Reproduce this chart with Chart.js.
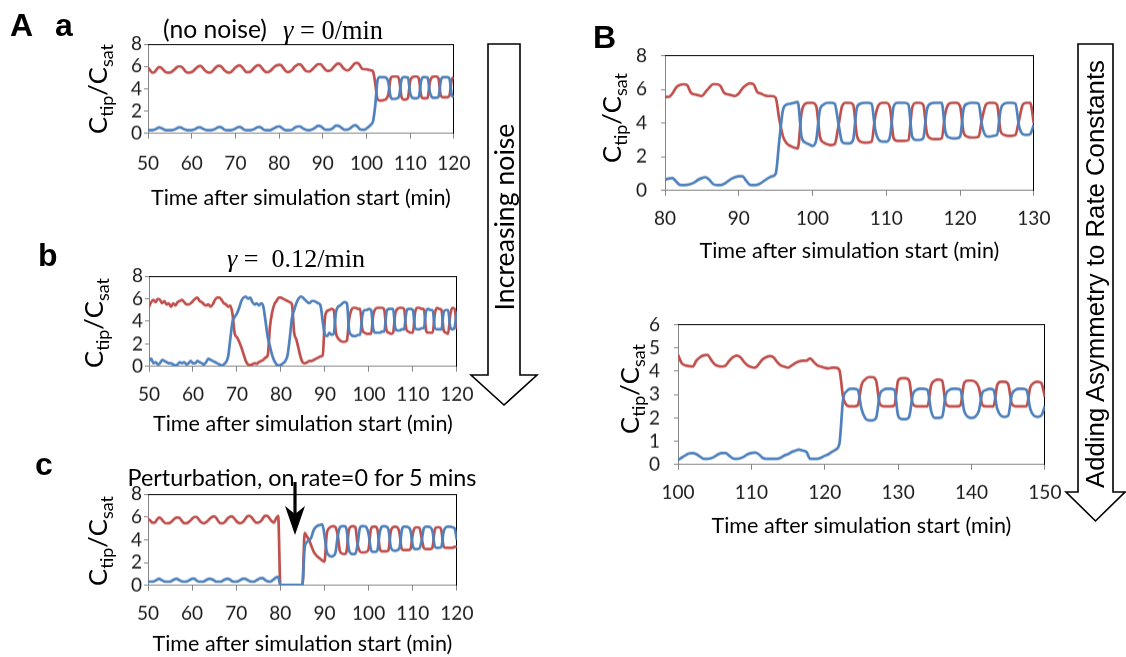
<!DOCTYPE html>
<html>
<head>
<meta charset="utf-8">
<script src="https://cdn.jsdelivr.net/npm/chart.js@4.4.1/dist/chart.umd.min.js"></script>
<style>
  html, body { margin: 0; padding: 0; background: #fff; }
  body { position: relative; width: 1126px; height: 657px; overflow: hidden; font-family: Lato, "Open Sans", sans-serif; color: #000; }
  .panel { position: absolute; }
  .lbl { position: absolute; white-space: nowrap; line-height: 1; }
  .letter { font-family: "Liberation Sans", Arial, sans-serif; font-weight: bold; font-size: 32px; }
  .ctr { transform: translate(-50%, -50%); }
  .rot { transform: translate(-50%, -50%) rotate(-90deg); }
  .rot sub { font-size: 0.7em; vertical-align: -0.3em; line-height: 0; }
  .math { font-family: "Liberation Serif", "Times New Roman", serif; }
  .arial { font-family: "Liberation Sans", Arial, sans-serif; }
  svg { position: absolute; left: 0; top: 0; }
</style>
</head>
<body>
<div class="panel" id="p-aa"><canvas></canvas></div>
<div class="panel" id="p-ab"><canvas></canvas></div>
<div class="panel" id="p-ac"><canvas></canvas></div>
<div class="panel" id="p-bt"><canvas></canvas></div>
<div class="panel" id="p-bb"><canvas></canvas></div>

<svg width="1126" height="657">
  <polygon points="488,44 520,44 520,375 537,375 504,405 471,375 488,375" fill="#fff" stroke="#000" stroke-width="1.6"/>
  <polygon points="1078,44 1113,44 1113,492 1125,492 1095.5,521 1066,492 1078,492" fill="#fff" stroke="#000" stroke-width="1.6"/>
  <line x1="295" y1="482" x2="295" y2="514" stroke="#000" stroke-width="3.2"/>
  <polygon points="285,506 295,514 305,506 295,535" fill="#000"/>
</svg>

<div class="lbl letter" style="left:10px;top:9px">A</div>
<div class="lbl letter" style="left:55px;top:9px">a</div>
<div class="lbl letter" style="left:38px;top:239px">b</div>
<div class="lbl letter" style="left:35px;top:448px">c</div>
<div class="lbl letter" style="left:593px;top:21px">B</div>

<div class="lbl ctr fit" data-w="104" style="left:215px;top:29px">(no noise)</div>
<div class="lbl ctr fit math" data-w="100" style="left:333px;top:30px"><i>γ</i> = 0/min</div>
<div class="lbl ctr fit math" data-w="138" style="left:296px;top:259px"><i>γ</i> =&nbsp; 0.12/min</div>
<div class="lbl ctr fit" data-w="349" style="left:302px;top:478px">Perturbation, on rate=0 for 5 mins</div>

<div class="lbl rot fit" data-w="90" style="left:98px;top:89px">C<sub>tip</sub>/C<sub>sat</sub></div>
<div class="lbl rot fit" data-w="90" style="left:94px;top:323px">C<sub>tip</sub>/C<sub>sat</sub></div>
<div class="lbl rot fit" data-w="90" style="left:98px;top:541px">C<sub>tip</sub>/C<sub>sat</sub></div>
<div class="lbl rot fit" data-w="90" style="left:612px;top:118px">C<sub>tip</sub>/C<sub>sat</sub></div>
<div class="lbl rot fit" data-w="90" style="left:630px;top:389px">C<sub>tip</sub>/C<sub>sat</sub></div>

<div class="lbl rot fit" data-w="187" style="left:504px;top:217px">Increasing noise</div>
<div class="lbl rot fit arial" data-w="428" style="left:1096px;top:274px">Adding Asymmetry to Rate Constants</div>

<script>
// sampled every 0.5 min; one row = 5 min
const aaRed = [
  5.9, 5.65, 5.45, 5.5, 5.75, 5.95, 5.9, 5.7, 5.5, 5.45,
  5.45, 5.55, 5.7, 5.9, 6.0, 6.0, 5.85, 5.6, 5.45, 5.45,
  5.5, 5.65, 5.85, 6.0, 6.05, 5.9, 5.65, 5.5, 5.45, 5.5,
  5.7, 5.9, 6.05, 6.05, 5.9, 5.65, 5.5, 5.45, 5.5, 5.7,
  5.9, 6.05, 6.1, 5.95, 5.7, 5.5, 5.5, 5.55, 5.75, 5.95,
  6.1, 6.1, 5.9, 5.65, 5.5, 5.5, 5.6, 5.8, 6.0, 6.1,
  6.15, 6.1, 5.85, 5.6, 5.5, 5.55, 5.7, 5.95, 6.1, 6.2,
  6.15, 5.9, 5.65, 5.55, 5.55, 5.7, 5.9, 6.1, 6.2, 6.2,
  6.0, 5.75, 5.6, 5.6, 5.7, 5.95, 6.15, 6.25, 6.2, 5.95,
  5.75, 5.65, 5.7, 5.9, 6.15, 6.3, 6.3, 6.1, 5.8, 5.75,
  5.75, 5.7, 5.65, 5.55, 4.5, 3.1, 2.95, 2.95, 3.0, 3.1,
  3.5, 4.9, 5.1, 5.1, 5.1, 4.8, 3.3, 3.05, 3.05, 3.2,
  4.7, 5.05, 5.1, 5.1, 4.9, 3.4, 3.15, 3.15, 3.2, 4.6,
  5.05, 5.1, 5.1, 4.9, 3.4, 3.25, 3.25, 3.25, 3.4, 4.8,
  5.05
];
const aaBlue = [
  0.3, 0.3, 0.3, 0.35, 0.45, 0.55, 0.5, 0.4, 0.3, 0.3,
  0.3, 0.3, 0.35, 0.45, 0.55, 0.55, 0.45, 0.35, 0.3, 0.3,
  0.3, 0.35, 0.45, 0.55, 0.55, 0.45, 0.35, 0.3, 0.3, 0.3,
  0.35, 0.45, 0.55, 0.6, 0.5, 0.35, 0.3, 0.3, 0.3, 0.35,
  0.45, 0.55, 0.6, 0.5, 0.35, 0.3, 0.3, 0.3, 0.35, 0.45,
  0.55, 0.6, 0.5, 0.35, 0.3, 0.3, 0.3, 0.4, 0.5, 0.6,
  0.65, 0.55, 0.4, 0.3, 0.3, 0.3, 0.35, 0.5, 0.6, 0.65,
  0.6, 0.45, 0.35, 0.3, 0.3, 0.35, 0.45, 0.6, 0.7, 0.65,
  0.5, 0.35, 0.35, 0.35, 0.4, 0.55, 0.7, 0.7, 0.6, 0.45,
  0.35, 0.35, 0.4, 0.55, 0.7, 0.75, 0.6, 0.4, 0.35, 0.35,
  0.45, 0.6, 0.8, 1.1, 2.5, 4.7, 5.05, 5.05, 5.05, 5.0,
  4.6, 3.3, 3.1, 3.1, 3.15, 3.4, 4.8, 5.05, 5.05, 5.0,
  3.6, 3.2, 3.15, 3.15, 3.3, 4.7, 5.05, 5.05, 5.0, 3.7,
  3.25, 3.2, 3.2, 3.3, 4.7, 5.05, 5.05, 5.05, 4.9, 3.5,
  3.25
];

const abRed = [
  5.3, 5.7, 5.9, 5.7, 6.0, 5.9, 5.6, 5.8, 5.5, 5.6,
  5.3, 5.6, 5.4, 5.7, 5.8, 5.9, 5.7, 5.5, 5.5, 5.6,
  5.8, 6.0, 6.1, 5.8, 5.7, 5.5, 5.4, 5.5, 5.3, 5.5,
  5.9, 6.1, 6.1, 5.9, 5.6, 5.5, 5.3, 5.4, 4.6, 2.9,
  2.6, 2.2, 1.7, 1.1, 0.5, 0.2, 0.15, 0.2, 0.3, 0.25,
  0.4, 0.5, 0.6, 0.8, 1.0, 3.5, 4.8, 5.5, 5.8, 6.1,
  6.1, 6.0, 5.9, 5.8, 5.7, 5.5, 3.0, 2.4, 1.6, 0.8,
  0.35, 0.3, 0.4, 0.5, 0.5, 0.6, 0.7, 0.8, 0.9, 1.0,
  4.3, 4.9, 5.0, 5.1, 5.0, 3.0, 2.5, 2.3, 2.2, 2.2,
  2.3, 4.2, 5.0, 5.2, 5.2, 5.1, 5.1, 3.3, 3.0, 2.9,
  2.9, 2.9, 4.6, 5.1, 5.2, 5.2, 5.2, 5.0, 3.2, 3.0,
  2.9, 3.0, 4.7, 5.1, 5.2, 5.2, 5.1, 3.3, 3.1, 3.0,
  3.0, 4.8, 5.2, 5.2, 5.1, 5.1, 3.2, 3.0, 3.0, 3.0,
  4.7, 5.2, 5.1, 5.0, 3.2, 3.0, 2.9, 4.6, 5.2, 5.1,
  3.3
];
const abBlue = [
  0.5, 0.7, 0.3, 0.4, 0.2, 0.3, 0.6, 0.5, 0.4, 0.3,
  0.3, 0.2, 0.1, 0.2, 0.4, 0.3, 0.4, 0.2, 0.3, 0.5,
  0.3, 0.3, 0.5, 0.4, 0.3, 0.2, 0.4, 0.7, 0.6, 0.5,
  0.4, 0.3, 0.2, 0.1, 0.2, 0.4, 0.9, 2.5, 4.0, 4.4,
  4.7, 5.2, 5.8, 6.1, 6.2, 6.0, 6.1, 5.7, 5.5, 5.6,
  5.4, 5.6, 5.3, 4.0, 2.6, 1.8, 1.0, 0.5, 0.2, 0.1,
  0.15, 0.3, 0.5, 1.0, 2.5, 4.3, 5.0, 5.6, 6.0, 6.2,
  6.1, 5.9, 5.7, 5.6, 5.8, 5.8, 5.7, 5.6, 5.4, 4.0,
  2.8, 2.7, 3.0, 2.8, 2.9, 4.8, 5.3, 5.4, 5.6, 5.7,
  5.6, 3.2, 2.8, 2.7, 2.7, 2.8, 2.8, 4.5, 5.0, 5.0,
  5.1, 5.0, 3.3, 3.0, 3.0, 3.0, 3.1, 3.1, 4.8, 5.1,
  5.1, 5.1, 3.4, 3.2, 3.2, 3.3, 3.3, 4.8, 5.1, 5.1,
  5.0, 3.4, 3.3, 3.3, 3.4, 3.4, 4.9, 5.1, 5.0, 5.0,
  3.4, 3.3, 3.3, 3.3, 4.8, 5.0, 5.0, 3.5, 3.3, 3.5,
  4.9
];

const acRed = [
  5.85, 5.7, 5.5, 5.5, 5.75, 5.95, 5.85, 5.6, 5.45, 5.45,
  5.5, 5.65, 5.85, 5.95, 5.95, 5.75, 5.5, 5.45, 5.5, 5.65,
  5.85, 6.0, 6.0, 5.8, 5.55, 5.45, 5.5, 5.65, 5.85, 6.0,
  6.05, 5.9, 5.6, 5.45, 5.45, 5.6, 5.85, 6.0, 6.05, 5.9,
  5.65, 5.5, 5.45, 5.55, 5.8, 6.05, 6.1, 5.95, 5.7, 5.5,
  5.5, 5.6, 5.85, 6.1, 6.1, 5.9, 5.65, 5.5, 5.85, 6.1,
  0.05, 0.05, 0.05, 0.05, 0.05, 0.05, 0.05, 0.05, 0.05, 0.05,
  0.05, 4.6, 4.3, 4.0, 3.5, 3.0, 2.7, 2.5, 2.35, 2.2,
  2.1, 4.5, 5.0, 5.15, 5.2, 5.1, 4.4, 3.0, 2.8, 2.75,
  3.0, 4.8, 5.15, 5.2, 5.1, 3.6, 3.0, 2.9, 2.9, 2.95,
  3.2, 4.9, 5.15, 5.15, 4.9, 3.3, 3.0, 3.0, 3.0, 3.1,
  4.7, 5.1, 5.15, 5.1, 4.6, 3.2, 3.1, 3.1, 3.1, 3.2,
  4.5, 5.05, 5.1, 5.05, 4.2, 3.3, 3.2, 3.2, 3.2, 3.4,
  4.9, 5.1, 5.1, 4.8, 3.4, 3.3, 3.3, 3.3, 3.3, 3.4,
  3.4
];
const acBlue = [
  0.35, 0.35, 0.35, 0.4, 0.5, 0.6, 0.5, 0.4, 0.35, 0.35,
  0.35, 0.45, 0.55, 0.6, 0.5, 0.4, 0.35, 0.35, 0.4, 0.5,
  0.6, 0.6, 0.45, 0.35, 0.35, 0.35, 0.45, 0.55, 0.6, 0.55,
  0.45, 0.35, 0.35, 0.35, 0.45, 0.55, 0.6, 0.55, 0.4, 0.35,
  0.35, 0.4, 0.5, 0.6, 0.6, 0.5, 0.4, 0.35, 0.35, 0.45,
  0.55, 0.65, 0.65, 0.5, 0.4, 0.35, 0.4, 0.55, 0.7, 0.75,
  0.05, 0.05, 0.05, 0.05, 0.05, 0.05, 0.05, 0.05, 0.05, 0.05,
  0.05, 3.3, 3.8, 3.95, 4.2, 4.8, 5.1, 5.25, 5.3, 5.35,
  4.4, 3.0, 2.65, 2.55, 2.6, 2.9, 4.3, 5.1, 5.2, 5.2,
  4.9, 3.2, 2.8, 2.75, 2.8, 3.6, 5.0, 5.2, 5.2, 5.1,
  4.5, 3.2, 2.95, 2.95, 3.1, 4.6, 5.15, 5.2, 5.15, 4.9,
  3.4, 3.1, 3.05, 3.1, 3.3, 4.8, 5.15, 5.15, 5.1, 4.8,
  3.5, 3.2, 3.2, 3.25, 3.9, 5.0, 5.15, 5.15, 5.1, 4.7,
  3.4, 3.3, 3.3, 3.4, 4.7, 5.1, 5.15, 5.15, 5.1, 5.0,
  4.0
];

const btRed = [
  5.55, 5.55, 5.75, 6.1, 6.25, 6.3, 6.25, 5.8, 5.7, 5.65,
  5.6, 5.85, 6.1, 6.3, 6.3, 6.2, 5.8, 5.7, 5.65, 5.6,
  5.75, 6.05, 6.25, 6.35, 6.3, 5.85, 5.75, 5.65, 5.6, 5.6,
  5.5, 4.2, 3.2, 2.8, 2.65, 2.55, 2.5, 4.6, 5.15, 5.2,
  5.2, 5.0, 3.2, 2.85, 2.75, 2.7, 2.75, 3.8, 5.0, 5.2,
  5.2, 5.1, 3.3, 2.9, 2.85, 2.85, 2.9, 4.4, 5.1, 5.2,
  5.2, 4.9, 3.1, 2.95, 2.95, 2.95, 3.0, 4.9, 5.2, 5.2,
  5.1, 3.4, 3.1, 3.05, 3.05, 3.1, 4.6, 5.15, 5.2, 5.2,
  5.0, 3.4, 3.2, 3.15, 3.15, 3.2, 4.3, 5.1, 5.2, 5.2,
  5.1, 3.5, 3.3, 3.25, 3.25, 3.3, 4.2, 5.1, 5.2, 5.2,
  4.0
];
const btBlue = [
  0.65, 0.72, 0.75, 0.55, 0.35, 0.33, 0.35, 0.4, 0.5, 0.65,
  0.75, 0.8, 0.65, 0.4, 0.33, 0.33, 0.4, 0.55, 0.7, 0.8,
  0.85, 0.85, 0.6, 0.35, 0.33, 0.35, 0.45, 0.6, 0.75, 0.85,
  1.0, 3.0, 4.8, 5.1, 5.15, 5.2, 5.25, 3.2, 2.85, 2.75,
  2.65, 3.0, 4.8, 5.1, 5.2, 5.2, 5.15, 4.0, 2.9, 2.8,
  2.8, 3.0, 4.9, 5.15, 5.2, 5.2, 5.15, 3.6, 3.0, 2.9,
  2.9, 3.2, 5.0, 5.2, 5.2, 5.2, 5.1, 3.2, 3.0, 3.0,
  3.1, 4.8, 5.15, 5.2, 5.2, 5.2, 3.5, 3.15, 3.1, 3.1,
  3.2, 4.9, 5.15, 5.2, 5.2, 5.15, 3.8, 3.25, 3.2, 3.25,
  3.3, 4.8, 5.15, 5.2, 5.2, 5.15, 3.8, 3.35, 3.3, 3.35,
  3.9
];

const bbRed = [
  4.7, 4.35, 4.25, 4.22, 4.2, 4.45, 4.6, 4.68, 4.7, 4.5,
  4.3, 4.22, 4.2, 4.25, 4.45, 4.6, 4.67, 4.6, 4.4, 4.25,
  4.18, 4.15, 4.3, 4.5, 4.6, 4.65, 4.6, 4.4, 4.25, 4.2,
  4.15, 4.25, 4.35, 4.42, 4.45, 4.45, 4.55, 4.4, 4.25, 4.2,
  4.15, 4.12, 4.15, 4.15, 4.05, 2.9, 2.55, 2.5, 2.5, 2.55,
  3.4, 3.65, 3.75, 3.75, 3.6, 2.6, 2.5, 2.5, 2.5, 2.55,
  3.6, 3.7, 3.7, 3.6, 2.6, 2.5, 2.5, 2.5, 2.5, 3.4,
  3.6, 3.65, 3.6, 2.6, 2.5, 2.5, 2.5, 2.55, 3.5, 3.6,
  3.6, 3.55, 3.3, 2.55, 2.5, 2.5, 2.5, 3.4, 3.55, 3.55,
  3.45, 2.6, 2.5, 2.5, 2.5, 2.5, 3.3, 3.5, 3.55, 3.5,
  2.9
];
const bbBlue = [
  0.2, 0.3, 0.4, 0.48, 0.5, 0.45, 0.35, 0.25, 0.25, 0.28,
  0.35, 0.45, 0.5, 0.5, 0.38, 0.27, 0.25, 0.28, 0.35, 0.45,
  0.5, 0.52, 0.45, 0.3, 0.25, 0.25, 0.25, 0.25, 0.3, 0.4,
  0.45, 0.55, 0.6, 0.65, 0.6, 0.55, 0.25, 0.25, 0.25, 0.3,
  0.38, 0.45, 0.55, 0.65, 0.9, 2.8, 3.15, 3.25, 3.25, 3.2,
  2.4, 2.0, 1.9, 1.9, 2.0, 3.0, 3.2, 3.25, 3.25, 3.2,
  2.1, 1.95, 1.95, 2.05, 3.0, 3.2, 3.25, 3.25, 3.2, 2.3,
  2.0, 2.0, 2.05, 3.0, 3.2, 3.25, 3.25, 3.2, 2.3, 2.05,
  2.0, 2.05, 2.3, 3.1, 3.2, 3.25, 3.2, 2.4, 2.1, 2.05,
  2.1, 3.0, 3.2, 3.25, 3.25, 3.2, 2.4, 2.1, 2.05, 2.1,
  2.5
];

const X_TITLE = "Time after simulation start (min)";
const RED = "#C0504D";
const BLUE = "#4F81BD";
const GREY = "#868686";
const TICK_SIZE = 19;

// plot = [left, top, width, height] of the plotting area on the page
const panels = [
  { id: "p-aa", plot: [148, 44, 310, 89], t0: 50, x: [50, 120, 10], y: [8, 2], red: aaRed, blue: aaBlue, lblGap: 30, ttlGap: 64, yPad: 2 },
  { id: "p-ab", plot: [149, 276, 310, 90], t0: 50, x: [50, 120, 10], y: [8, 2], red: abRed, blue: abBlue, lblGap: 28, ttlGap: 57, yPad: 2 },
  { id: "p-ac", plot: [148, 494, 311, 91], t0: 50, x: [50, 120, 10], y: [8, 2], red: acRed, blue: acBlue, lblGap: 28, ttlGap: 58, yPad: 2 },
  { id: "p-bt", plot: [665, 44, 371, 146], t0: 80, x: [80, 130, 10], y: [8, 2], red: btRed, blue: btBlue, lblGap: 28, ttlGap: 60, yPad: 14 },
  { id: "p-bb", plot: [678, 313, 369, 151], t0: 100, x: [100, 150, 10], y: [6, 1], red: bbRed, blue: bbBlue, lblGap: 28, ttlGap: 61, yPad: 14 }
];

const mctx = document.createElement("canvas").getContext("2d");
function fitFont(text, family, target) {
  mctx.font = "100px " + family;
  return 100 * target / mctx.measureText(text).width;
}

function series(t0, values) {
  return values.map((v, i) => ({ x: t0 + i * 0.5, y: v }));
}

function buildPanel(p) {
  const L = 70, T = 14, R = 26;
  const [pl, pt, pw, ph] = p.plot;
  const ttlSize = fitFont(X_TITLE, "Lato", 300);
  const B = p.ttlGap + ttlSize * 1.2 / 2;
  const xPad = p.lblGap - 5 - TICK_SIZE * 1.2 / 2;

  const box = document.getElementById(p.id);
  box.style.left = (pl - L) + "px";
  box.style.top = (pt - T) + "px";
  box.style.width = (pw + L + R) + "px";
  box.style.height = (ph + T + B) + "px";

  const tickFont = { family: "Lato", size: TICK_SIZE };

  new Chart(box.querySelector("canvas"), {
    type: "line",
    data: {
      datasets: [
        { data: series(p.t0, p.blue), borderColor: BLUE, borderWidth: 2.7, pointRadius: 0, fill: false, cubicInterpolationMode: "monotone" },
        { data: series(p.t0, p.red), borderColor: RED, borderWidth: 2.7, pointRadius: 0, fill: false, cubicInterpolationMode: "monotone" }
      ]
    },
    options: {
      responsive: true,
      maintainAspectRatio: false,
      animation: false,
      events: [],
      layout: { padding: { top: T, right: R, left: 0, bottom: 0 } },
      plugins: { legend: { display: false }, tooltip: { enabled: false } },
      scales: {
        x: {
          type: "linear", position: "bottom",
          min: p.x[0], max: p.x[1],
          ticks: { stepSize: p.x[2], autoSkip: false, maxRotation: 0, padding: xPad, color: "#1a1a1a", font: tickFont },
          grid: { display: true, drawOnChartArea: false, drawTicks: true, tickLength: 5, color: GREY },
          border: { display: true, color: GREY, width: 1 },
          title: { display: true, text: X_TITLE, color: "#000", padding: 0, font: { family: "Lato", size: ttlSize } },
          afterFit: s => { s.height = B; }
        },
        y: {
          type: "linear", position: "left",
          min: 0, max: p.y[0],
          ticks: { stepSize: p.y[1], autoSkip: false, padding: p.yPad, color: "#1a1a1a", font: tickFont },
          grid: { display: true, drawOnChartArea: false, drawTicks: true, tickLength: 4, color: GREY },
          border: { display: true, color: GREY, width: 1 },
          afterFit: s => { s.width = L; }
        },
        x2: {
          type: "linear", position: "top", min: p.x[0], max: p.x[1],
          ticks: { display: false }, grid: { display: false },
          border: { display: true, color: "#000", width: 1 },
          afterFit: s => { s.height = 0; }
        },
        y2: {
          type: "linear", position: "right", min: 0, max: p.y[0],
          ticks: { display: false }, grid: { display: false },
          border: { display: true, color: "#000", width: 1 },
          afterFit: s => { s.width = 0; }
        }
      }
    }
  });
}

document.querySelectorAll(".fit").forEach(el => {
  el.style.fontSize = "100px";
  const w = el.offsetWidth;
  el.style.fontSize = (100 * Number(el.dataset.w) / w) + "px";
});

panels.forEach(buildPanel);
</script>
</body>
</html>
